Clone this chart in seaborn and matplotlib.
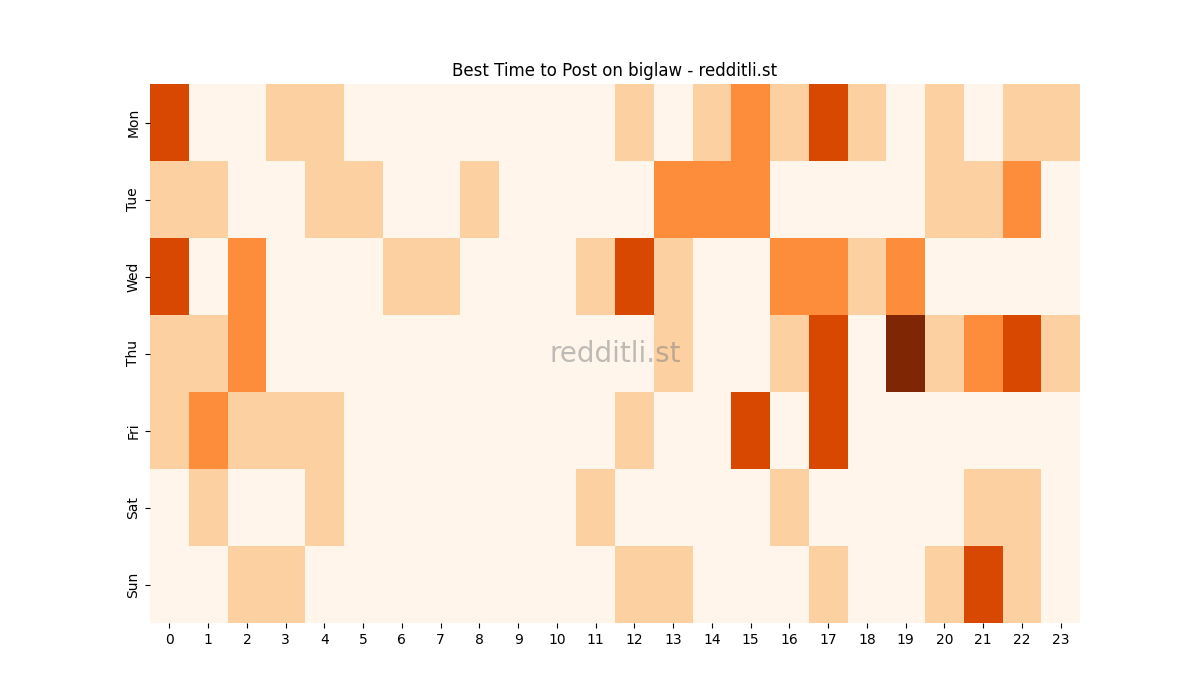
import numpy as np
import pandas as pd
import seaborn as sns
from matplotlib import pyplot

days = ["Mon", "Tue", "Wed", "Thu", "Fri", "Sat", "Sun"]
hours = list(range(24))

mon = [3, 0, 0, 1, 1, 0, 0, 0, 0, 0, 0, 0, 1, 0, 1, 2, 1, 3, 1, 0, 1, 0, 1, 1]
tue = [1, 1, 0, 0, 1, 1, 0, 0, 1, 0, 0, 0, 0, 2, 2, 2, 0, 0, 0, 0, 1, 1, 2, 0]
wed = [3, 0, 2, 0, 0, 0, 1, 1, 0, 0, 0, 1, 3, 1, 0, 0, 2, 2, 1, 2, 0, 0, 0, 0]
thu = [1, 1, 2, 0, 0, 0, 0, 0, 0, 0, 0, 0, 0, 1, 0, 0, 1, 3, 0, 4, 1, 2, 3, 1]
fri = [1, 2, 1, 1, 1, 0, 0, 0, 0, 0, 0, 0, 1, 0, 0, 3, 0, 3, 0, 0, 0, 0, 0, 0]
sat = [0, 1, 0, 0, 1, 0, 0, 0, 0, 0, 0, 1, 0, 0, 0, 0, 1, 0, 0, 0, 0, 1, 1, 0]
sun = [0, 0, 1, 1, 0, 0, 0, 0, 0, 0, 0, 0, 1, 1, 0, 0, 0, 1, 0, 0, 1, 3, 1, 0]

df = pd.DataFrame([mon, tue, wed, thu, fri, sat, sun], index=days, columns=hours)

fig, ax = pyplot.subplots(figsize=(12, 7), dpi=100)
sns.heatmap(df, cmap="Oranges", vmin=0, vmax=4, cbar=False, ax=ax)
ax.set_title("Best Time to Post on biglaw - redditli.st")
ax.set_xlabel("")
ax.set_ylabel("")
ax.text(0.5, 0.5, "redditli.st", transform=ax.transAxes, ha="center", va="center",
        fontsize=20, color="gray", alpha=0.5)

pyplot.savefig("out.png")
